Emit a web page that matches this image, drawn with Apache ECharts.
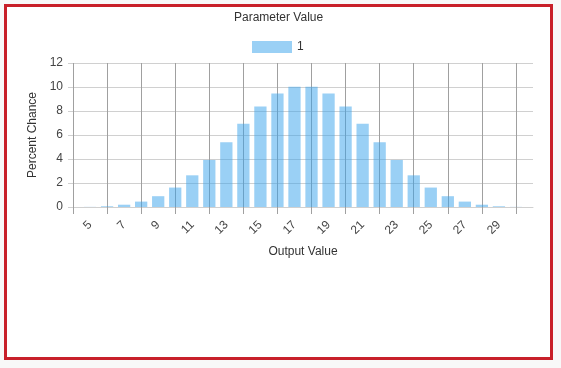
<!DOCTYPE html>
<html>
<head>
<meta charset="utf-8">
<script src="https://cdn.jsdelivr.net/npm/echarts@6/dist/echarts.min.js"></script>
<style>
  html, body { margin: 0; padding: 0; background: #f8f8f8; width: 561px; height: 368px; overflow: hidden; }
  #frame { position: absolute; left: 4px; top: 4px; width: 549px; height: 356px; box-sizing: border-box; border: 3px solid #c8202a; background: #ffffff; }
  #chart { position: absolute; left: 0; top: 0; width: 561px; height: 368px; }
</style>
</head>
<body>
<div id="frame"></div>
<div id="chart"></div>
<script>
const titleText = 'Parameter Value';
const seriesName = '1';
const xAxisTitle = 'Output Value';
const yAxisTitle = 'Percent Chance';
const categories = ['4','5','6','7','8','9','10','11','12','13','14','15','16','17','18','19','20','21','22','23','24','25','26','27','28','29','30','31'];
const values = [null, 0.01, 0.06, 0.19, 0.45, 0.9, 1.62, 2.64, 3.92, 5.4, 6.94, 8.37, 9.45, 10.03, 10.03, 9.45, 8.37, 6.94, 5.4, 3.92, 2.64, 1.62, 0.9, 0.45, 0.19, 0.06, 0.01, null];
const yMin = 0, yMax = 12, yStep = 2;

const font = "'Liberation Sans', Arial, sans-serif";
const chart = echarts.init(document.getElementById('chart'), null, { renderer: 'canvas' });
const evenIdx = (i) => i % 2 === 0;
chart.setOption({
  animation: false,
  backgroundColor: 'transparent',
  textStyle: { fontFamily: font },
  title: {
    text: titleText, left: 229, top: 7,
    textStyle: { fontFamily: font, fontSize: 12, fontWeight: 'normal', color: '#333' }
  },
  legend: {
    top: 36, left: 247, itemWidth: 40, itemHeight: 12, itemGap: 10,
    icon: 'rect',
    textStyle: { fontFamily: font, fontSize: 12, color: '#333' },
    data: [seriesName]
  },
  grid: { left: 73, right: 28, top: 63, bottom: 161, containLabel: false },
  xAxis: {
    type: 'category', data: categories, boundaryGap: false,
    name: xAxisTitle, nameLocation: 'middle', nameGap: 39,
    nameTextStyle: { fontFamily: font, fontSize: 12, color: '#333' },
    axisLine: { show: true, lineStyle: { color: '#d0d0d0', width: 1 } },
    axisTick: { show: true, length: 7, interval: evenIdx, lineStyle: { color: '#a0a0a0' } },
    splitLine: { show: true, interval: (i) => i % 2 === 0 && i < 27, lineStyle: { color: '#a0a0a0', width: 1 } },
    axisLabel: {
      interval: (i) => i % 2 === 1 && i <= 25, rotate: 45, margin: 16,
      fontFamily: font, fontSize: 12, color: '#444'
    }
  },
  yAxis: {
    type: 'value', min: yMin, max: yMax, interval: yStep,
    name: yAxisTitle, nameLocation: 'middle', nameGap: 34,
    nameTextStyle: { fontFamily: font, fontSize: 12, color: '#333' },
    axisLine: { show: false },
    axisTick: { show: true, length: 5, lineStyle: { color: '#d0d0d0' } },
    splitLine: { show: true, lineStyle: { color: '#d0d0d0', width: 1 } },
    axisLabel: { margin: 10, fontFamily: font, fontSize: 12, color: '#444' }
  },
  series: [{
    name: seriesName, type: 'bar', data: values,
    barWidth: '72%',
    itemStyle: { color: 'rgba(54,162,235,0.5)' }
  }]
});
</script>
</body>
</html>
